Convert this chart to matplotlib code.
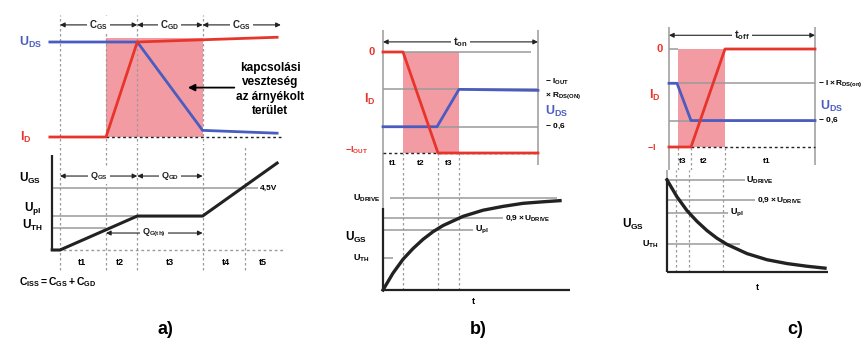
import matplotlib
matplotlib.use('Agg')
import matplotlib.pyplot as plt

plt.rcParams['font.family'] = ['Liberation Sans', 'DejaVu Sans']
plt.rcParams['font.weight'] = 'bold'
plt.rcParams['mathtext.fontset'] = 'custom'
plt.rcParams['mathtext.rm'] = 'Liberation Sans:bold'
plt.rcParams['mathtext.it'] = 'Liberation Sans:bold'
plt.rcParams['mathtext.bf'] = 'Liberation Sans:bold'

W, H = 868, 345
RED = '#e8352c'
BLUE = '#4b5cc0'
PINK = '#f39ba3'
GRID = '#9a9a9a'
DARK = '#222222'

# ---- a) hard switching: time in units of the t1 interval
a_edges = [0.0, 1.0, 1.68, 3.1, 4.02]
a_id_t = [-0.22, 1.0, 1.68, 4.72]
a_id_v = [0.0, 0.0, 1.0, 1.05]
a_uds_t = [-0.22, 1.68, 3.1, 4.72]
a_uds_v = [1.0, 1.0, 0.07, 0.04]
a_caps = [(0.0, 1.68, r'$C_{GS}$'), (1.68, 3.1, r'$C_{GD}$'), (3.1, 4.8, r'$C_{GS}$')]
a_ugs_t = [-0.17, 0.0, 1.68, 3.1, 4.72]
a_ugs_v = [0.0, 0.0, 2.46, 2.46, 6.3]
a_uth, a_upl, a_u45 = 1.6, 2.46, 4.5
a_tlabels = [0.48, 1.3, 2.4, 3.6, 4.4]

# ---- b) turn-on with diode conduction
b_edges = [1.0, 2.75, 3.8]
b_end = 7.75
b_id_t = [0.0, 1.0, 2.75, 7.75]
b_id_v = [0.0, 0.0, -1.0, -1.0]
b_uds_t = [0.0, 2.7, 3.8, 7.75]
b_uds_v = [-0.74, -0.74, -0.37, -0.38]
b_ugs_t = [0, 0.5, 1, 1.5, 2, 2.5, 3, 3.5, 4, 5, 6, 7, 8, 8.85]
b_ugs_v = [0, 2.2, 4.0, 5.4, 6.6, 7.6, 8.4, 9.0, 9.6, 10.4, 10.9, 11.3, 11.5, 11.65]
b_drive, b_u09, b_upl, b_uth = 12.0, 9.4, 7.8, 4.2

# ---- c) turn-off
c_edges = [0.45, 1.1, 2.8]
c_end = 7.3
c_id_t = [0.0, 1.1, 2.8, 7.3]
c_id_v = [-1.0, -1.0, 0.0, 0.0]
c_uds_t = [0.0, 0.4, 1.1, 7.3]
c_uds_v = [-0.35, -0.35, -0.73, -0.73]
c_ugs_t = [0, 0.5, 1, 1.5, 2, 2.5, 3, 3.5, 4, 5, 6, 7, 7.9]
c_ugs_v = [12, 9.8, 8.0, 6.6, 5.4, 4.4, 3.6, 3.0, 2.4, 1.6, 1.1, 0.75, 0.5]
c_drive, c_u09, c_upl, c_uth = 12.0, 9.4, 7.7, 3.65

fig = plt.figure(figsize=(W / 100, H / 100), dpi=100)


def add_panel(rect, xorg, xs, yorg, ys):
    # rect in pixels (left, top, right, bottom); data x = (px-xorg)/xs, y = (yorg-py)/ys
    x0, y0, x1, y1 = rect
    ax = fig.add_axes([x0 / W, 1 - y1 / H, (x1 - x0) / W, (y1 - y0) / H])
    ax.set_xlim((x0 - xorg) / xs, (x1 - xorg) / xs)
    ax.set_ylim((yorg - y1) / ys, (yorg - y0) / ys)
    ax.axis('off')
    return ax


def span(ax, t0, t1, v, label, fs=7):
    ax.annotate('', xy=(t0, v), xytext=(t1, v),
                arrowprops=dict(arrowstyle='<|-|>', lw=0.8, color=DARK,
                                shrinkA=0, shrinkB=0, mutation_scale=7))
    ax.text((t0 + t1) / 2, v, label, ha='center', va='center', fontsize=fs,
            color=DARK, bbox=dict(fc='white', ec='none', pad=1.5))


def dashed_v(ax, ts, v0, v1):
    ax.vlines(ts, v0, v1, colors=GRID, linestyles=(0, (2, 2)), lw=0.9)


def grey_h(ax, v, t0, t1):
    ax.hlines(v, t0, t1, colors=GRID, lw=1.1)


# ================= a) top
ax = add_panel((0, 8, 305, 145), 60, 46, 137, 95)
ax.fill_between([a_edges[1], a_edges[3]], 0, 1.04, color=PINK, lw=0)
dashed_v(ax, a_edges[:4], -0.09, 1.28)
ax.hlines(0, a_edges[1], 4.8, colors=DARK, linestyles=(0, (2, 2)), lw=1)
ax.plot(a_uds_t, a_uds_v, color=BLUE, lw=2)
ax.plot(a_id_t, a_id_v, color=RED, lw=2)
for t0, t1, lab in a_caps:
    span(ax, t0, t1, 1.18, lab)
ax.text(-0.65, 1.0, r'$U_{DS}$', color=BLUE, ha='center', va='center', fontsize=9)
ax.text(-0.75, 0.0, r'$I_D$', color=RED, ha='center', va='center', fontsize=9)
ax.text(4.57, 0.5, 'kapcsolási\nveszteség\naz árnyékolt\nterület', ha='center',
        va='center', fontsize=8.5, linespacing=1.25)
ax.annotate('', xy=(2.72, 0.52), xytext=(3.85, 0.52),
            arrowprops=dict(arrowstyle='-|>', color='black', lw=1.3, mutation_scale=10))

# ================= a) bottom
ax = add_panel((0, 145, 305, 300), 60, 46, 250, 13.8)
dashed_v(ax, a_edges, -1.45, 7.6)
grey_h(ax, a_u45, -0.17, 4.3)
grey_h(ax, a_upl, -0.17, 1.68)
grey_h(ax, a_uth, -0.17, 1.0)
ax.hlines(0, -0.17, 4.85, colors=GRID, linestyles=(0, (2, 2)), lw=1)
ax.vlines(-0.17, 0, 6.9, colors=DARK, lw=1.6)
ax.plot(a_ugs_t, a_ugs_v, color=DARK, lw=2.2)
ax.text(-0.65, 5.2, r'$U_{GS}$', ha='center', va='center', fontsize=8.5)
ax.text(-0.6, 3.0, r'$U_{pl}$', ha='center', va='center', fontsize=8.5)
ax.text(-0.6, 1.75, r'$U_{TH}$', ha='center', va='center', fontsize=8.5)
ax.text(4.35, 4.5, '4,5V', ha='left', va='center', fontsize=6)
span(ax, 0.0, 1.68, 5.36, r'$Q_{GS}$', fs=6.5)
span(ax, 1.68, 3.1, 5.36, r'$Q_{GD}$', fs=6.5)
span(ax, 1.0, 3.1, 1.23, r'$Q_{G(th)}$', fs=6.5)
for i, t in enumerate(a_tlabels):
    ax.text(t, -0.87, 't%d' % (i + 1), ha='center', va='center', fontsize=6.5)
ax.text(-0.04, -2.3, r'$C_{ISS} = C_{GS} + C_{GD}$', ha='center', va='center', fontsize=7.5)

# ================= b) top
ax = add_panel((335, 20, 600, 170), 383, 20, 52, 101)
ax.fill_between([b_edges[0], b_edges[2]], -1, 0, color=PINK, lw=0)
ax.vlines([0, b_end], [-1.17, -1.12], 0.22, colors=GRID, lw=1.1)
grey_h(ax, 0, 0, 7.4)
grey_h(ax, -0.37, 0, b_end)
grey_h(ax, -0.74, 0, b_end)
ax.hlines(-1, 0, b_end, colors=DARK, linestyles=(0, (2, 2)), lw=1)
dashed_v(ax, b_edges, -1.17, -1.0)
ax.plot(b_uds_t, b_uds_v, color=BLUE, lw=2)
ax.plot(b_id_t, b_id_v, color=RED, lw=2)
span(ax, 0, b_end, 0.1, r'$t_{on}$', fs=8)
ax.text(-0.55, 0, '0', color=RED, ha='center', va='center', fontsize=8)
ax.text(-0.65, -0.47, r'$I_D$', color=RED, ha='center', va='center', fontsize=9)
ax.text(-1.3, -0.97, r'$-I_{OUT}$', color=RED, ha='center', va='center', fontsize=6.5)
ax.text(8.1, -0.30, r'$-\ I_{OUT}$', ha='left', va='center', fontsize=6)
ax.text(8.1, -0.43, r'$\times\ R_{DS(ON)}$', ha='left', va='center', fontsize=6)
ax.text(8.1, -0.59, r'$U_{DS}$', color=BLUE, ha='left', va='center', fontsize=9)
ax.text(8.1, -0.74, r'$-\ 0{,}6$', ha='left', va='center', fontsize=6)
for t, lab in zip([0.5, 1.87, 3.27], ['t1', 't2', 't3']):
    ax.text(t, -1.10, lab, ha='center', va='center', fontsize=6)

# ================= b) bottom
ax = add_panel((335, 170, 600, 310), 383, 20, 290, 7.67)
dashed_v(ax, b_edges, 0, 15.6)
ax.vlines(0, 10.7, 15.6, colors=GRID, lw=1.1)
grey_h(ax, b_drive, 0.35, 8.7)
grey_h(ax, b_u09, 0, 6.0)
grey_h(ax, b_upl, 0, 4.5)
grey_h(ax, b_uth, 0, 0.5)
ax.vlines(0, 0, 10.7, colors=DARK, lw=1.6)
ax.hlines(0, 0, 9.35, colors=DARK, lw=1.6)
ax.plot(b_ugs_t, b_ugs_v, color=DARK, lw=2.4)
ax.text(-0.8, b_drive, r'$U_{DRIVE}$', ha='center', va='center', fontsize=6.5)
ax.text(6.1, b_u09, r'$0{,}9 \times U_{DRIVE}$', ha='left', va='center', fontsize=6)
ax.text(4.6, b_upl, r'$U_{pl}$', ha='left', va='center', fontsize=6.5)
ax.text(-1.1, b_uth, r'$U_{TH}$', ha='center', va='center', fontsize=6.5)
ax.text(-1.35, 6.9, r'$U_{GS}$', ha='center', va='center', fontsize=8.5)
ax.text(4.5, -1.56, 't', ha='center', va='center', fontsize=6.5)

# ================= c) top
ax = add_panel((610, 20, 868, 170), 669, 20, 49, 98)
ax.fill_between([c_edges[0], c_edges[2]], -1, 0, color=PINK, lw=0)
ax.vlines([0, c_end], [-1.23, -1.18], 0.22, colors=GRID, lw=1.1)
grey_h(ax, 0, 0, c_edges[0])
grey_h(ax, -0.35, 0, c_end)
grey_h(ax, -0.73, 0, c_end)
ax.hlines(-1, 1.1, c_end, colors=DARK, linestyles=(0, (2, 2)), lw=1)
dashed_v(ax, c_edges, -1.23, -1.0)
ax.plot(c_uds_t, c_uds_v, color=BLUE, lw=2)
ax.plot(c_id_t, c_id_v, color=RED, lw=2)
span(ax, 0, c_end, 0.14, r'$t_{off}$', fs=8)
ax.text(-0.45, 0, '0', color=RED, ha='center', va='center', fontsize=8)
ax.text(-0.7, -0.47, r'$I_D$', color=RED, ha='center', va='center', fontsize=9)
ax.text(-0.85, -1.0, r'$-I$', color=RED, ha='center', va='center', fontsize=6.5)
ax.text(7.45, -0.35, r'$-\ I \times R_{DS(on)}$', ha='left', va='center', fontsize=6)
ax.text(7.55, -0.59, r'$U_{DS}$', color=BLUE, ha='left', va='center', fontsize=9)
ax.text(7.45, -0.73, r'$-\ 0{,}6$', ha='left', va='center', fontsize=6)
for t, lab in zip([0.7, 1.75, 4.9], ['t3', 't2', 't1']):
    ax.text(t, -1.15, lab, ha='center', va='center', fontsize=6)

# ================= c) bottom
ax = add_panel((610, 170, 868, 310), 667, 20, 272, 7.67)
dashed_v(ax, c_edges, 0, 13.3)
ax.vlines(0, 12.25, 13.3, colors=GRID, lw=1.1)
grey_h(ax, c_drive, 0, 3.9)
grey_h(ax, c_u09, 0, 4.4)
grey_h(ax, c_upl, 0, 3.05)
grey_h(ax, c_uth, 0, 3.65)
ax.vlines(0, 0, 12.25, colors=DARK, lw=1.6)
ax.hlines(0, 0, 8.05, colors=DARK, lw=1.6)
ax.plot(c_ugs_t, c_ugs_v, color=DARK, lw=2.4)
ax.text(3.95, c_drive, r'$U_{DRIVE}$', ha='left', va='center', fontsize=6.5)
ax.text(4.5, c_u09, r'$0{,}9 \times U_{DRIVE}$', ha='left', va='center', fontsize=6)
ax.text(3.15, c_upl, r'$U_{pl}$', ha='left', va='center', fontsize=6.5)
ax.text(-0.85, c_uth, r'$U_{TH}$', ha='center', va='center', fontsize=6.5)
ax.text(-1.7, 6.26, r'$U_{GS}$', ha='center', va='center', fontsize=8.5)
ax.text(4.5, -1.96, 't', ha='center', va='center', fontsize=6.5)

# panel captions
for x, lab in [(165, 'a)'), (478, 'b)'), (795, 'c)')]:
    fig.text(x / W, 1 - 330 / H, lab, ha='center', va='center', fontsize=13,
             fontweight='bold', family=['Liberation Sans Narrow', 'Liberation Sans', 'DejaVu Sans'])

fig.savefig('out.png', dpi=100, facecolor='white')
